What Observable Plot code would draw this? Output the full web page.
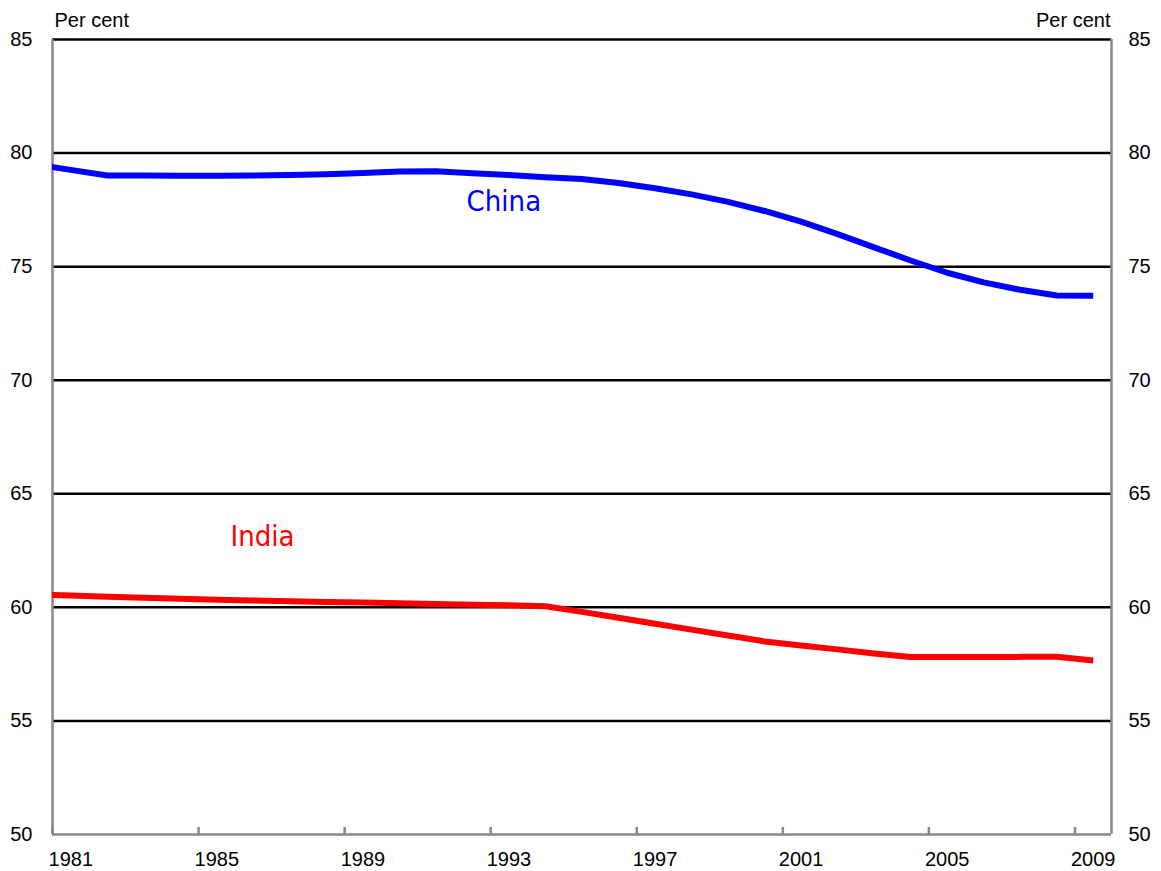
<!DOCTYPE html>
<html>
<head>
<meta charset="utf-8">
<script src="https://cdn.jsdelivr.net/npm/d3@7"></script>
<script src="https://cdn.jsdelivr.net/npm/@observablehq/plot@0.6"></script>
<style>
  html, body { margin: 0; padding: 0; background: #fff; }
  #chart svg { display: block; }
</style>
</head>
<body>
<div id="chart"></div>
<script>
// Years (annual data, plotted at the centre of each year's category)
const years = [1980,1981,1982,1983,1984,1985,1986,1987,1988,1989,1990,1991,1992,1993,1994,1995,1996,1997,1998,1999,2000,2001,2002,2003,2004,2005,2006,2007,2008,2009];
const china = [79.50,79.26,79.01,79.01,79.00,79.00,79.01,79.03,79.07,79.12,79.19,79.20,79.11,79.03,78.94,78.86,78.68,78.45,78.18,77.85,77.45,76.98,76.43,75.85,75.27,74.73,74.31,73.98,73.73,73.72];
const india = [60.57,60.52,60.47,60.42,60.38,60.34,60.30,60.27,60.24,60.21,60.18,60.15,60.12,60.09,60.05,59.80,59.54,59.28,59.02,58.76,58.50,58.32,58.15,57.97,57.81,57.81,57.81,57.82,57.83,57.66];

const xTickYears = [1981,1985,1989,1993,1997,2001,2005,2009];
const yTicks = [50,55,60,65,70,75,80,85];
const gridValues = [55,60,65,70,75,80,85];
const unitLabel = "Per cent";

const seriesLabels = [
  {name: "China", x: 1993.36, y: 77.85, color: "#0000FF"},
  {name: "India", x: 1986.75, y: 63.1, color: "#FF0000"}
];

const data = [
  ...years.map((yr, i) => ({year: yr, value: china[i], series: "China"})),
  ...years.map((yr, i) => ({year: yr, value: india[i], series: "India"}))
];

const font = "'Liberation Sans', Arial, sans-serif";
const W = 1161, H = 871;
const mL = 52, mR = 50, mT = 39, mB = 37;
const innerH = H - mT - mB;

const chart = Plot.plot({
  width: W,
  height: H,
  marginLeft: mL,
  marginRight: mR,
  marginTop: mT,
  marginBottom: mB,
  style: {fontFamily: font, fontSize: "20px", color: "#000", background: "#fff", overflow: "visible"},
  x: {domain: [1981, 2010], axis: null},
  y: {domain: [50, 85], axis: null},
  color: {domain: ["China", "India"], range: ["#0000FF", "#FF0000"]},
  marks: [
    // horizontal gridlines
    Plot.ruleY(gridValues, {stroke: "#000", strokeWidth: 2.5}),
    // frame: left, right, bottom axis lines
    Plot.ruleX([1981, 2010], {stroke: "#888", strokeWidth: 2.5}),
    Plot.ruleY([50], {stroke: "#888", strokeWidth: 2.5}),
    // inward tick marks on the bottom axis
    Plot.ruleX(xTickYears, {stroke: "#888", strokeWidth: 2.5, insetTop: innerH - 7}),
    // lines
    Plot.lineY(data, {x: d => d.year + 0.5, y: "value", z: "series", stroke: "series", strokeWidth: 6, clip: true, strokeLinecap: "butt"}),
    // x labels centred on the year category
    Plot.text(xTickYears, {x: d => d + 0.5, text: d => String(d), frameAnchor: "bottom", lineAnchor: "middle", dy: 25, fontSize: 20, fill: "#000"}),
    // y labels left and right
    Plot.text(yTicks, {y: d => d, text: d => String(d), frameAnchor: "left", textAnchor: "end", dx: -20, fontSize: 20, fill: "#000"}),
    Plot.text(yTicks, {y: d => d, text: d => String(d), frameAnchor: "right", textAnchor: "start", dx: 17, fontSize: 20, fill: "#000"}),
    // unit labels
    Plot.text([unitLabel], {text: d => d, frameAnchor: "top-left", lineAnchor: "middle", textAnchor: "start", dx: 2, dy: -19, fontSize: 20, fill: "#000"}),
    Plot.text([unitLabel], {text: d => d, frameAnchor: "top-right", lineAnchor: "middle", textAnchor: "end", dx: -1, dy: -19, fontSize: 20, fill: "#000"}),
    // series labels
    Plot.text(seriesLabels, {x: "x", y: "y", text: "name", fill: "color", fontSize: 29, fontFamily: "'Liberation Sans Narrow', 'DejaVu Sans Condensed', sans-serif", textAnchor: "middle"})
  ]
});

document.getElementById("chart").appendChild(chart);
</script>
</body>
</html>
